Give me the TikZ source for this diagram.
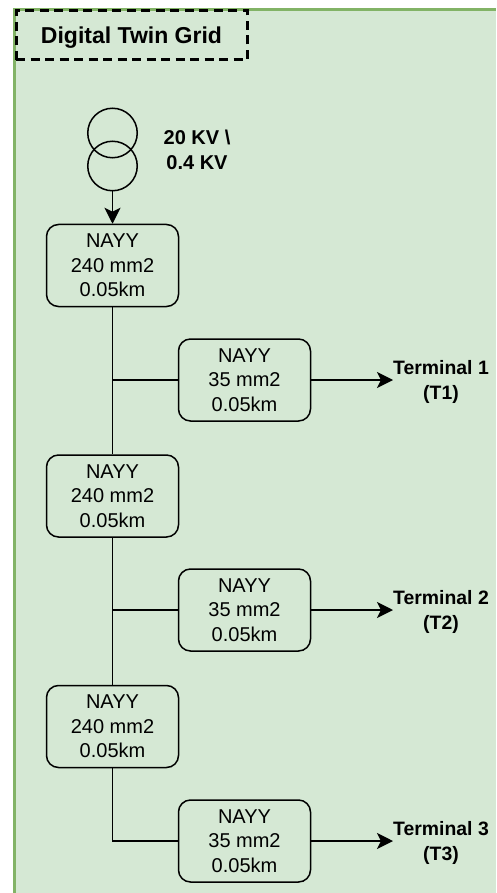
\documentclass[tikz,border=0pt]{standalone}
\usepackage{fontspec}
\setmainfont{Liberation Sans}
\usetikzlibrary{arrows.meta, positioning}
\definecolor{panelfill}{HTML}{D5E8D4}
\definecolor{panelline}{HTML}{82B366}

\begin{document}
\begin{tikzpicture}[
    x=1pt, y=-1pt,
    node distance=147pt and 0pt,
    >=Latex,
    font=\fontsize{20}{24.5}\selectfont,
    every node/.style={align=center},
    cable/.style={rectangle, draw, line width=1.5pt, rounded corners=12pt, minimum width=132pt, minimum height=82pt, inner sep=0pt},
    coil/.style={circle, draw, line width=1.5pt, minimum size=49.5pt, inner sep=0pt},
    terminal/.style={font=\fontsize{19.4}{25}\selectfont\bfseries, inner sep=0pt},
    line/.style={line width=1.5pt},
    arrow/.style={-{Stealth[length=16pt,width=16pt,inset=4pt]}, line width=1.5pt}
]
\useasboundingbox (0,0) rectangle (496,893);
\fill[panelfill] (14,10) rectangle (496,893);
\draw[panelline, line width=3pt] (14,893) -- (14,10) -- (496,10);
\node[rectangle, draw, line width=3pt, dash pattern=on 9pt off 5.5pt, minimum width=231pt, minimum height=49pt, text height=20pt, text depth=3pt, font=\fontsize{23}{26}\selectfont\bfseries] (title) at (131.5,35.5) {Digital Twin Grid};
\node[coil] (coilA) at (112.5,133) {};
\node[coil] (coilB) at (112.5,166) {};
\node[font=\fontsize{20}{25}\selectfont\bfseries] (ratio) at (197,150) {20 KV \textbackslash\\0.4 KV};
\node[cable] (main1) at (112.5,265.5) {NAYY\\240 mm2\\0.05km};
\node[cable, below=of main1] (main2) {NAYY\\240 mm2\\0.05km};
\node[cable, below=of main2] (main3) {NAYY\\240 mm2\\0.05km};
\node[cable] (sub1) at (244.5,380) {NAYY\\35 mm2\\0.05km};
\node[cable] (sub2) at (244.5,610) {NAYY\\35 mm2\\0.05km};
\node[cable] (sub3) at (244.5,841) {NAYY\\35 mm2\\0.05km};
\node[terminal] (term1) at (441,381.5) {Terminal 1\\(T1)};
\node[terminal] (term2) at (441,611.5) {Terminal 2\\(T2)};
\node[terminal] (term3) at (441,842.5) {Terminal 3\\(T3)};
\draw[arrow] (coilB) -- (main1);
\draw[line] (main1) -- (main2);
\draw[line] (main2) -- (main3);
\draw[line] (sub1.west) -- (sub1.west -| main1.south);
\draw[line] (sub2.west) -- (sub2.west -| main2.south);
\draw[line] (main3.south) |- (sub3.west);
\draw[arrow] (sub1.east) -- (sub1.east -| term1.west);
\draw[arrow] (sub2.east) -- (sub2.east -| term2.west);
\draw[arrow] (sub3.east) -- (sub3.east -| term3.west);
\end{tikzpicture}
\end{document}
